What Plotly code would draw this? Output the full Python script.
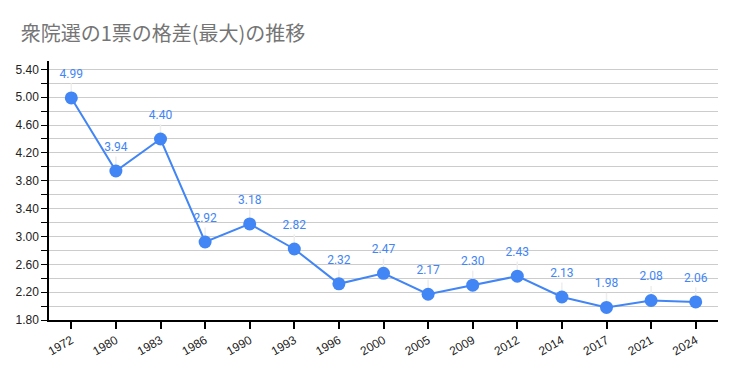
import plotly.graph_objects as go

years = ["1972", "1980", "1983", "1986", "1990", "1993", "1996", "2000",
         "2005", "2009", "2012", "2014", "2017", "2021", "2024"]
disparity = [4.99, 3.94, 4.40, 2.92, 3.18, 2.82, 2.32, 2.47,
             2.17, 2.30, 2.43, 2.13, 1.98, 2.08, 2.06]
y_tick_vals = [1.8, 2.2, 2.6, 3.0, 3.4, 3.8, 4.2, 4.6, 5.0, 5.4]
y_tick_text = ["1.80", "2.20", "2.60", "3.00", "3.40", "3.80", "4.20", "4.60", "5.00", "5.40"]

BLUE = "#4285F4"
FONT = "Roboto, Noto Sans CJK JP, sans-serif"
TICKFONT = "Liberation Sans, Arial, sans-serif"

fig = go.Figure()
# faint leader lines from each point up toward its label
fig.add_trace(go.Scatter(
    x=years, y=disparity, mode="markers",
    marker=dict(size=1, opacity=0),
    error_y=dict(type="data", symmetric=False,
                 array=[0.21] * len(disparity), arrayminus=[0] * len(disparity),
                 width=0, thickness=1.5, color="#eeeeee"),
    hoverinfo="skip", showlegend=False,
))
fig.add_trace(go.Scatter(
    x=years, y=disparity, mode="lines+markers",
    line=dict(color=BLUE, width=2),
    marker=dict(color=BLUE, size=13),
    hoverinfo="x+y", showlegend=False,
))
# data labels
fig.add_trace(go.Scatter(
    x=years, y=disparity, mode="markers+text",
    marker=dict(size=26, opacity=0),
    text=[f"{v:.2f}" for v in disparity], textposition="top center",
    textfont=dict(family=FONT, size=12, color=BLUE),
    hoverinfo="skip", showlegend=False,
))

fig.update_layout(
    width=738, height=371,
    margin=dict(l=49, r=20, t=61, b=51, autoexpand=False),
    paper_bgcolor="white", plot_bgcolor="white",
    title=dict(text="衆院選の1票の格差(最大)の推移", x=0.028, xanchor="left",
               y=0.908, yanchor="middle",
               font=dict(family="Noto Sans CJK JP, sans-serif", size=20, color="#757575")),
    font=dict(family=FONT, size=12, color="#222222"),
)
fig.update_xaxes(
    type="category", range=[-0.5, 14.5], automargin=False,
    showline=True, linecolor="black", linewidth=1.5,
    ticks="outside", ticklen=7, tickcolor="black", tickwidth=1.5,
    tickangle=-30, showgrid=False,
    tickfont=dict(family=TICKFONT, size=12, color="#222222"),
)
fig.update_yaxes(
    range=[1.8, 5.52], tickvals=y_tick_vals, ticktext=y_tick_text, automargin=False,
    showline=True, linecolor="black", linewidth=1.5,
    ticks="outside", ticklen=6, tickcolor="black",
    showgrid=True, gridcolor="#cccccc", gridwidth=1,
    minor=dict(dtick=0.4, tick0=2.0, showgrid=True, gridcolor="#cccccc",
               ticks="outside", ticklen=6, tickcolor="black"),
    zeroline=False,
    tickfont=dict(family=TICKFONT, size=12, color="#222222"),
)

fig.write_html("out.html", config={"displayModeBar": False},
               post_script="document.body.style.margin='0';")
